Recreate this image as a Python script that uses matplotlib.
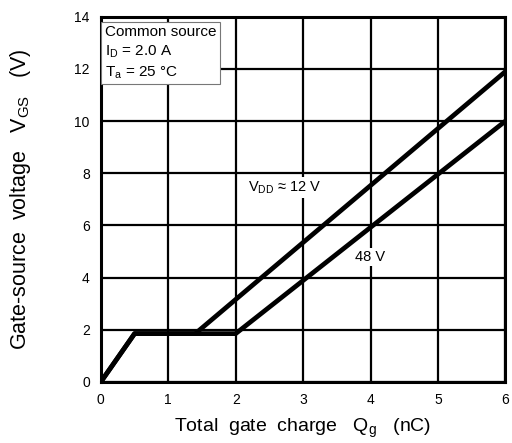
import matplotlib
matplotlib.use("Agg")
import matplotlib.pyplot as plt

plt.rcParams['font.family'] = ['Liberation Sans', 'DejaVu Sans']
plt.rcParams['mathtext.fontset'] = 'custom'
plt.rcParams['mathtext.rm'] = 'Liberation Sans'

# gate charge curves (Qg in nC, VGS in V)
qg_12v = [0.0, 0.5, 1.4, 6.0]
vgs_12v = [0.0, 1.85, 1.85, 11.9]
qg_48v = [0.0, 0.5, 2.0, 6.0]
vgs_48v = [0.0, 1.85, 1.85, 10.0]

xticks = [0, 1, 2, 3, 4, 5, 6]
yticks = [0, 2, 4, 6, 8, 10, 12, 14]

fig = plt.figure(figsize=(5.12, 4.43), dpi=100)
ax = fig.add_axes([0.197, 0.138, 0.79, 0.824])

ax.plot(qg_12v, vgs_12v, color='black', linewidth=3.4, solid_capstyle='butt', zorder=3)
ax.plot(qg_48v, vgs_48v, color='black', linewidth=3.4, solid_capstyle='butt', zorder=3)

ax.set_xlim(0, 6)
ax.set_ylim(0, 14)
ax.set_xticks(xticks)
ax.set_yticks(yticks)
ax.tick_params(length=0, labelsize=10, pad=8)
ax.grid(True, color='black', linewidth=1.6)
ax.set_axisbelow(True)
for s in ax.spines.values():
    s.set_linewidth(2.2)

ax.set_xlabel(r'Total  gate  charge   $\mathregular{Q_g}$   (nC)', fontsize=14, labelpad=7)
ax.set_ylabel(r'Gate-source  voltage   $\mathregular{V_{GS}}$   (V)', fontsize=15.5)
ax.yaxis.set_label_coords(-0.168, 0.5)

ax.text(0.06, 13.7,
        'Common source\n' + r'$\mathregular{I_D}$ = 2.0 A' + '\n' + r'$\mathregular{T_a}$ = 25 °C',
        fontsize=11, va='top', ha='left', linespacing=1.38, zorder=4,
        bbox=dict(facecolor='white', edgecolor='#777777', linewidth=0.8, boxstyle='square,pad=0.25'))

ax.text(2.72, 7.45, r'$\mathregular{V_{DD}}$ ≈ 12 V', fontsize=10.5, ha='center', va='center',
        zorder=4, bbox=dict(facecolor='white', edgecolor='none', pad=1.5))
ax.text(4.0, 4.8, '48 V', fontsize=10.5, ha='center', va='center',
        zorder=4, bbox=dict(facecolor='white', edgecolor='none', pad=1.5))

fig.savefig('out.png', dpi=100)
